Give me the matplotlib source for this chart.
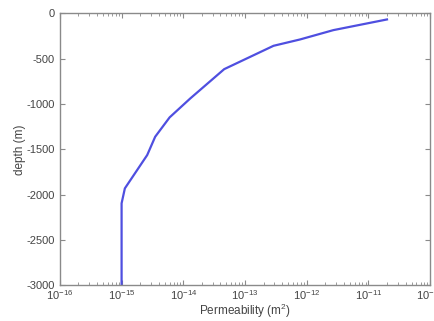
import matplotlib
matplotlib.use("Agg")
import matplotlib.pyplot as plt
from matplotlib.ticker import LogLocator, FixedLocator

plt.rcParams['font.family'] = ['Liberation Sans', 'DejaVu Sans']
plt.rcParams['mathtext.fontset'] = 'custom'
plt.rcParams['mathtext.rm'] = 'Liberation Sans'
plt.rcParams['axes.unicode_minus'] = False

permeability = [2.0e-11, 2.7e-12, 7.8e-13, 2.9e-13, 4.6e-14, 1.3e-14, 6.0e-15,
                3.5e-15, 2.6e-15, 1.13e-15, 1.0e-15, 1.0e-15]
depth = [-66, -184, -287, -357, -615, -938, -1148, -1362, -1564, -1932, -2097, -3000]

yticks = [0, -500, -1000, -1500, -2000, -2500, -3000]

fig = plt.figure(figsize=(4.34, 3.21), dpi=100)
ax = fig.add_axes([0.138, 0.112, 0.853, 0.846])
ax.plot(permeability, depth, color='#4f4fe0', lw=1.6)
ax.set_xscale('log')
ax.set_xlim(1e-16, 1e-10)
ax.set_ylim(-3000, 0)
ax.xaxis.set_major_locator(LogLocator(base=10, numticks=10))
ax.xaxis.set_minor_locator(LogLocator(base=10, subs=range(2, 10), numticks=20))
ax.yaxis.set_major_locator(FixedLocator(yticks))

gray = '#8a8a8a'
for s in ax.spines.values():
    s.set_color(gray)
    s.set_linewidth(1.0)
ax.tick_params(which='both', direction='in', top=True, right=True, colors=gray,
               labelcolor='#444444', labelsize=8)
ax.tick_params(which='major', length=3.5)
ax.tick_params(which='minor', length=2)
ax.tick_params(axis='x', pad=2)

ax.set_xlabel('Permeability (m$^2$)', fontsize=8.5, color='#444444', labelpad=0)
ax.set_ylabel('depth (m)', fontsize=8.5, color='#444444')
ax.yaxis.set_label_coords(-0.092, 0.5)

fig.savefig('out.png', dpi=100)
